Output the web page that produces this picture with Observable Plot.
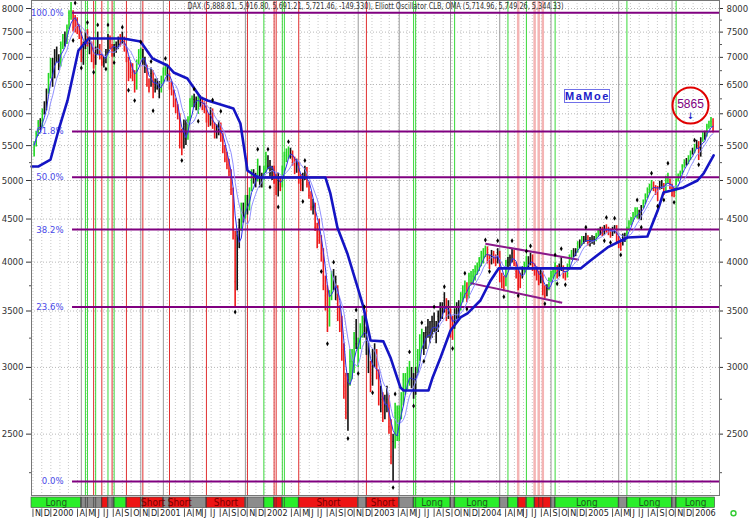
<!DOCTYPE html>
<html>
<head>
<meta charset="utf-8">
<script src="https://cdn.jsdelivr.net/npm/d3@7"></script>
<script src="https://cdn.jsdelivr.net/npm/@observablehq/plot@0.6"></script>
<style>
  body { margin: 0; background: #fff; }
  #wrap { position: relative; width: 750px; height: 518px; overflow: hidden; background: #fff; }
  #wrap svg { display: block; }
  .mamoe { position: absolute; left: 564px; top: 89px; width: 44px; height: 12px; border: 1px solid #7070e8;
    color: #2020c8; background: #fff; font: bold 11px "Liberation Sans", Arial, sans-serif; letter-spacing: 1.5px;
    line-height: 12px; text-align: center; }
</style>
</head>
<body>
<div id="wrap"></div>
<script>
// weekly DAX bars [low, high, close], first week 1999-11-05
const bars1999 = [[5330,5560,5510],[5480,5720,5690],[5640,5890,5850],[5730,5920,5780],[5760,6080,6040],[5980,6200,6100],[6050,6420,6380],[6330,6700,6660],[6600,6980,6950]];
const bars2000 = [[6450,6980,6650],[6600,7150,7100],[6900,7200,6980],[6750,7050,6850],[6820,7300,7250],[7150,7450,7380],[7200,7500,7300],[7250,7650,7600],[7550,7950,7900],[7750,8130,7950],
  [7500,7950,7600],[7480,7850,7750],[7450,7800,7600],[7350,7650,7450],[6900,7500,7050],[6850,7300,7250],[7150,7500,7420],[7200,7550,7300],[7050,7400,7250],[6900,7300,7000],
  [6780,7050,6850],[6850,7200,7150],[7050,7500,7200],[6950,7250,7000],[6830,7050,6900],[6800,7000,6920],[6880,7150,7100],[7050,7450,7380],[7150,7420,7200],[7000,7250,7100],
  [7000,7250,7180],[7080,7300,7250],[7150,7400,7300],[7200,7450,7380],[7250,7500,7350],[7100,7400,7150],[6900,7200,6950],[6550,7000,6750],[6600,6900,6800],[6550,6880,6650],
  [6350,6750,6550],[6400,6950,6900],[6850,7150,7100],[6950,7180,7050],[6850,7150,6900],[6700,7000,6800],[6450,6850,6500],[6350,6600,6450],[6450,6800,6700],[6250,6750,6500],
  [6350,6600,6450],[6400,6600,6433]];
const bars2001 = [[6250,6550,6380],[6350,6650,6550],[6500,6800,6720],[6650,6880,6800],[6550,6850,6650],[6400,6700,6480],[6300,6550,6380],[6100,6400,6200],[6000,6250,6100],[5900,6150,5980],
  [5450,6000,5550],[5350,5750,5500],[5450,5900,5830],[5500,5900,5600],[5580,5950,5900],[5880,6250,6200],[6100,6300,6250],[6100,6330,6240],[6050,6280,6150],[5990,6300,6250],
  [6100,6300,6180],[6050,6250,6150],[6000,6200,6080],[5850,6100,5930],[5780,6000,5850],[5800,6100,6050],[5750,6080,5800],[5600,5850,5680],[5600,5820,5750],[5650,5880,5800],
  [5550,5850,5650],[5380,5680,5450],[5250,5500,5300],[5150,5400,5220],[5050,5300,5120],[4800,5150,4880],[4250,4900,4400],[3540,4350,3790],[3700,4350,4300],[4150,4500,4400],
  [4350,4700,4600],[4450,4700,4580],[4500,4800,4750],[4550,4800,4650],[4600,4900,4850],[4850,5150,5100],[4950,5150,5000],[4900,5100,5000],[4980,5300,5200],[4900,5200,4950],
  [4900,5100,5050],[5000,5200,5160]];
const bars2002 = [[5100,5400,5300],[5150,5350,5200],[5050,5280,5100],[5000,5200,5150],[4950,5200,5050],[4800,5080,4900],[4780,5100,5000],[4850,5050,4950],[4900,5200,5150],[5100,5400,5350],
  [5250,5450,5350],[5300,5480,5400],[5300,5460,5397],[5200,5420,5300],[5080,5330,5150],[5100,5300,5250],[4950,5250,5000],[4850,5080,4950],[4850,5100,5050],[5000,5200,5150],
  [4900,5180,4950],[4750,4980,4800],[4600,4850,4650],[4550,4750,4650],[4350,4700,4400],[4150,4450,4380],[4200,4500,4250],[4000,4300,4100],[3700,4150,3750],[3500,3850,3650],
  [3300,3750,3500],[3350,3700,3650],[3600,3900,3850],[3700,3920,3800],[3600,3850,3700],[3400,3750,3500],[3300,3550,3400],[3050,3450,3150],[2750,3200,2850],[2600,2950,2650],
  [2520,2950,2900],[2850,3150,3050],[2900,3150,3050],[2950,3300,3250],[3150,3420,3200],[3000,3250,3200],[3150,3380,3350],[3250,3450,3350],[3250,3460,3300],[3100,3350,3150],
  [2950,3200,3000],[2800,3050,2850]];
const bars2003 = [[2850,3150,3100],[3000,3200,3050],[2900,3150,2950],[2700,2980,2750],[2650,2850,2750],[2580,2800,2650],[2600,2780,2700],[2650,2850,2750],[2500,2780,2550],[2300,2600,2350],
  [2190,2500,2450],[2400,2720,2650],[2450,2700,2500],[2450,2700,2650],[2600,2800,2750],[2700,2950,2900],[2780,2950,2850],[2820,3000,2950],[2850,3050,2950],[2830,3000,2900],
  [2750,2950,2800],[2780,3000,2980],[2950,3150,3100],[3050,3280,3250],[3150,3330,3300],[3100,3300,3150],[3150,3350,3300],[3250,3420,3350],[3200,3400,3300],[3250,3450,3400],
  [3300,3480,3350],[3200,3400,3300],[3300,3500,3450],[3400,3580,3550],[3420,3580,3500],[3480,3680,3600],[3400,3620,3450],[3420,3600,3500],[3250,3520,3300],[3230,3450,3350],
  [3330,3520,3500],[3420,3580,3500],[3430,3600,3550],[3500,3680,3650],[3580,3750,3700],[3620,3800,3750],[3580,3780,3650],[3620,3880,3850],[3750,3900,3800],[3760,3920,3850],
  [3800,3960,3900],[3860,3990,3950]];
const bars2004 = [[3900,4050,4000],[3950,4120,4050],[3980,4150,4100],[4050,4180,4150],[3980,4170,4050],[3920,4080,4000],[3970,4130,4100],[3980,4120,4050],[3950,4080,4020],[3980,4150,4100],
  [3780,4120,3800],[3720,3880,3800],[3690,3850,3750],[3740,4020,4000],[3920,4050,4000],[3950,4080,4050],[3990,4150,4100],[3950,4130,3985],[3820,4000,3900],[3700,3920,3750],
  [3720,3880,3850],[3820,3950,3920],[3880,4000,3950],[3920,4060,4000],[3940,4060,4000],[3960,4100,4050],[3900,4080,3950],[3850,3980,3900],[3800,3950,3850],[3750,3900,3800],
  [3770,3920,3900],[3650,3900,3700],[3620,3750,3650],[3640,3760,3720],[3700,3830,3800],[3780,3900,3850],[3820,3940,3900],[3870,3990,3950],[3820,3960,3850],[3840,3980,3950],
  [3900,4050,3950],[3820,3960,3850],[3800,3900,3850],[3830,3980,3950],[3930,4080,4050],[4020,4130,4100],[4050,4150,4100],[4060,4150,4120],[4100,4230,4200],[4150,4250,4200],
  [4180,4290,4250],[4200,4290,4250],[4220,4330,4256]];
const bars2005 = [[4180,4300,4220],[4170,4280,4250],[4200,4300,4230],[4190,4290,4260],[4230,4330,4300],[4280,4380,4350],[4300,4400,4360],[4290,4400,4350],[4300,4420,4400],[4330,4430,4380],
  [4300,4400,4350],[4270,4380,4330],[4290,4400,4350],[4320,4420,4400],[4220,4420,4250],[4150,4290,4200],[4120,4250,4185],[4180,4320,4300],[4220,4330,4260],[4260,4400,4380],
  [4370,4480,4450],[4420,4520,4500],[4460,4580,4550],[4520,4640,4600],[4500,4640,4530],[4490,4610,4600],[4480,4670,4650],[4630,4740,4700],[4680,4820,4800],[4760,4900,4880],
  [4820,4950,4900],[4860,5000,4950],[4850,4980,4900],[4800,4930,4850],[4720,4920,4900],[4870,4990,4950],[4880,5000,4950],[4800,4960,4850],[4850,5060,5050],[4960,5100,5000],
  [4880,5020,4900],[4780,4950,4800],[4770,4900,4850],[4850,5020,5000],[4980,5090,5050],[5020,5130,5100],[5080,5220,5200],[5170,5290,5250],[5200,5310,5250],[5220,5350,5300],
  [5280,5420,5400],[5360,5460,5408]];
const bars2006 = [[5380,5520,5500],[5450,5580,5550],[5280,5560,5350],[5330,5620,5600],[5550,5700,5650],[5580,5720,5650],[5630,5830,5800],[5750,5880,5800],[5780,5940,5870],[5691,5917,5721]];

// bar colour per week: g = green, r = red, k = black
const col1999 = "gggkgkkgg";
const col2000 = "kkkkggkggg" + "rrrrrkkrkr" + "rkkrrkkkrr" + "kkkrkrrrrr" + "rgggkkrrkr" + "kk";
const col2001 = "kgggkrrrrr" + "rrkkgggkkg" + "krrrrkrrkk" + "rrrrrrrrkk" + "gkgkggkkgk" + "kg";
const col2002 = "gkkkrrkrgg" + "ggkrrkrrkk" + "rrrkrrrrrr" + "rggkkrrrrr" + "kgggkgggkk" + "kr";
const col2003 = "kkrrkrkkrr" + "kggggggggk" + "kkgggkkkkk" + "kkkkkkrkrr" + "kkkgggrggg" + "gg";
const col2004 = "ggggrrkrrk" + "rrrgkkkrrr" + "rkggkkrrrr" + "krrkggggrk" + "krrgggkkgk" + "gkk";
const col2005 = "rkkkggkrkr" + "rrkkrrrkkg" + "gggggkkggg" + "ggrrrkkrgg" + "rrrgggggkg" + "gk";
const col2006 = "gkrkgkgggr";

// fractal markers: week number and value
const dotWeeks = [19,20,23,26,29,31,35,36,39,43,46,49,52,57,58,64,72,78,80,87,91,98,109,114,115,119,124,131,132,140,
  143,146,153,157,158,161,165,175,176,183,185,189,190,195,200,204,210,211,220,222,226,229,233,236,240,242,249,254,255,257,
  259,269,278,279,281,283,286,294,296,301,304,307,309,312,322,324];
const dotValues = [7330,8120,6800,7700,6720,7650,6780,7650,6900,7600,6400,6220,7300,6920,6050,6980,5280,6420,5880,6230,
  6040,3490,5445,5445,4910,4650,5560,4720,5280,3900,3200,4000,2470,3510,2950,3540,2800,2160,2790,3130,
  2700,3390,3050,3540,3740,3160,3880,3520,4250,3900,4240,3640,4240,3650,4120,4180,3570,4080,3770,4150,
  3760,4400,4240,4520,4220,4510,4080,4740,4400,5100,4660,4740,5240,4710,5580,5220];

// thick OMA trailing line
const trailDates = ["1999-10-27","1999-11-20","1999-12-31","2000-01-27","2000-02-27","2000-04-04","2000-05-09","2000-09-05","2000-11-02","2000-12-13",
  "2001-02-02","2001-02-23","2001-04-11","2001-05-26","2001-06-19","2001-09-15","2001-10-09","2001-11-02","2001-12-06","2002-07-26",
  "2002-08-12","2002-09-05","2002-10-09","2002-11-13","2002-12-03","2002-12-27","2003-02-09","2003-03-05","2003-04-08","2003-04-19",
  "2003-07-13","2003-07-27","2003-08-23","2003-09-26","2003-10-30","2003-11-23","2004-01-06","2004-02-10","2004-03-08","2004-12-13",
  "2005-01-16","2005-03-15","2005-05-22","2005-07-29","2005-09-02","2005-09-22","2005-11-29","2006-01-16","2006-02-06","2006-03-12"];
const trailValues = [5195,5195,5295,5732,6222,7133,7371,7371,7311,6978,
  6846,6717,6607,6273,6222,6087,5843,5139,5042,5042,
  4826,4398,4096,3733,3535,3229,3221,3083,2840,2817,
  2817,2919,3083,3319,3439,3477,3602,3805,3932,3932,
  4019,4164,4279,4291,4606,4839,4906,5000,5097,5354];

// Fibonacci retracement levels
const fibLabels = ["0.0%","23.6%","38.2%","50.0%","61.8%","100.0%"];
const fibValues = [2197,3538,4373,5043,5718,7910];
const fibStart = "2000-03-15";

// 2004 channel
const channelDates = [["2004-01-23","2004-12-07"],["2003-12-03","2004-10-11"]];
const channelValues = [[4206,4027],[3777,3580]];

// signal lines: g green, r red, k grey, p pink band
const signalDates = ["2000-04-14","2000-04-28","2000-05-05","2000-05-26","2000-06-02","2000-06-23","2000-07-14","2000-07-28","2000-08-04","2000-09-15",
  "2000-11-03","2000-11-10","2001-01-19","2001-02-09","2001-04-20","2001-06-15","2001-10-26","2001-11-02","2001-12-28","2002-02-01",
  "2002-02-08","2002-03-01","2002-03-08","2002-04-26","2002-11-15","2002-12-13","2003-04-04","2003-05-23","2003-05-30","2003-09-26",
  "2003-10-10","2004-03-12","2004-04-09","2004-05-14","2004-06-11","2004-07-09","2004-07-23","2004-08-06","2004-09-03","2004-09-17",
  "2005-04-22","2005-05-20","2005-10-21","2005-11-04"];
const signalKinds = "kggrgrgrgr" + "krkrkrkrgr" + "rggrkrkggk" + "gkgpgpppkg" + "kgkg";

// status bar: L long, S short, N neutral
const stateStarts = ["1999-10-27","2000-04-14","2000-06-23","2000-07-14","2000-08-04","2000-09-15","2000-11-03","2000-11-10","2001-01-19","2001-02-09",
  "2001-04-20","2001-06-15","2001-10-26","2001-12-28","2002-02-01","2002-03-01","2002-04-26","2002-11-15","2002-12-13","2003-04-04",
  "2003-05-23","2003-09-26","2003-10-10","2004-03-12","2004-04-09","2004-05-14","2004-06-11","2004-07-09","2004-09-03","2004-09-17",
  "2005-04-22","2005-05-20","2005-10-21","2005-11-04"];
const stateKinds = "LNSNLSNSNS" + "NSNLSLSNSN" + "LNLNLSLSNL" + "NLNL";
const stateEnd = "2006-03-17";

const yTicks = [2500,3000,3500,4000,4500,5000,5500,6000,6500,7000,7500,8000];
const yMinor = [2250,2750,3250,3750,4250,4750,5250,5750,6250,6750,7250,7750];
const monthLetters = ["J","F","M","A","M","J","J","A","S","O","N","D"];

const header = "DAX (5,888.81, 5,916.80, 5,691.21, 5,721.46, -149.330), Elliott Oscillator CLB, OMA (5,714.96, 5,749.26, 5,344.33)";
const target = {date: "2005-12-23", value: 6138, label: "5865"};

// ---------- build tables ----------
const day = 864e5;
const firstWeek = Date.UTC(1999, 10, 5);
const barYears = [bars1999, bars2000, bars2001, bars2002, bars2003, bars2004, bars2005, bars2006];
const colYears = [col1999, col2000, col2001, col2002, col2003, col2004, col2005, col2006];
const bars = [];
barYears.forEach((year, k) => year.forEach((b, j) => {
  bars.push({date: new Date(firstWeek + bars.length * 7 * day), lo: b[0], hi: b[1], close: b[2], col: colYears[k][j]});
}));
const barColor = {g: "#22d822", r: "#ee1a1a", k: "#111111"};

const dots = dotWeeks.map((w, i) => ({date: bars[w].date, value: dotValues[i]}));
const trail = trailDates.map((d, i) => ({date: new Date(d), value: trailValues[i]}));
const fib = fibValues.map((v, i) => ({value: v, label: fibLabels[i], x1: new Date(fibStart), x2: new Date("2006-04-01")}));
const channels = channelDates.map((d, i) => ({x1: new Date(d[0]), x2: new Date(d[1]), y1: channelValues[i][0], y2: channelValues[i][1]}));
const signals = signalDates.map((d, i) => ({date: new Date(d), kind: signalKinds[i]}));
const signalColor = {g: "#3ad83a", r: "#e03030", k: "#9a9a9a", p: "#f4b4b4"};
const states = stateStarts.map((s, i) => ({x1: new Date(s), x2: new Date(stateStarts[i + 1] || stateEnd), kind: stateKinds[i]}));
const stateColor = {L: "#2aee2a", S: "#ee1414", N: "#8c8c8c"};

const xDomain = [new Date("1999-10-27"), new Date("2006-04-01")];
const months = d3.utcMonth.range(xDomain[0], xDomain[1]);
const monthTicks = d3.utcMonth.range(new Date("1999-11-01"), new Date("2006-01-02"))
  .filter(d => d.getUTCMonth() !== 1 && d.getUTCMonth() !== 2)
  .map(d => ({date: d, label: d.getUTCMonth() === 0 ? String(d.getUTCFullYear()) : monthLetters[d.getUTCMonth()]}));

const font = '"Liberation Sans Narrow", "DejaVu Sans Condensed", "Liberation Sans", sans-serif';

const main = Plot.plot({
  width: 750,
  height: 495,
  marginLeft: 31,
  marginRight: 31,
  marginTop: 0,
  marginBottom: 0,
  x: {type: "utc", domain: xDomain, axis: null},
  y: {type: "log", domain: [2114, 8177], axis: null},
  style: {fontFamily: font, fontSize: 9, background: "#fff", overflow: "visible"},
  marks: [
    Plot.ruleY(yTicks, {stroke: "#b8b8b8", strokeDasharray: "1,2"}),
    Plot.ruleX(months, {stroke: "#c8c8c8", strokeDasharray: "1,2"}),
    Plot.ruleX(signals.filter(d => d.kind === "p"), {x: "date", stroke: signalColor.p, strokeWidth: 2.5}),
    Plot.ruleX(signals.filter(d => d.kind !== "p"), {x: "date", stroke: d => signalColor[d.kind], strokeWidth: 1}),
    Plot.ruleX(bars, {x: "date", y1: "lo", y2: "hi", stroke: d => barColor[d.col], strokeWidth: 1.6}),
    Plot.ruleY(bars, {y: "close", x1: "date", x2: d => new Date(+d.date + 3 * day), stroke: d => barColor[d.col], strokeWidth: 1}),
    Plot.ruleY(fib, {y: "value", x1: "x1", x2: "x2", stroke: "#800080", strokeWidth: 2}),
    Plot.text(fib, {x: "x1", y: "value", text: "label", textAnchor: "end", dx: -9, fill: "#4848e8", fontSize: 9.5}),
    Plot.link(channels, {x1: "x1", x2: "x2", y1: "y1", y2: "y2", stroke: "#8a1a8a", strokeWidth: 2}),
    Plot.lineY(bars, Plot.windowY({k: 8, anchor: "end"}, {x: "date", y: "close", stroke: "#9090ff", strokeWidth: 1})),
    Plot.lineY(bars, Plot.windowY({k: 4, anchor: "end"}, {x: "date", y: "close", stroke: "#3030e8", strokeWidth: 1})),
    Plot.line(trail, {x: "date", y: "value", stroke: "#1414c4", strokeWidth: 2.6}),
    Plot.dot(dots, {x: "date", y: "value", symbol: "diamond", r: 1.5, fill: "#000"}),
    Plot.dot([target], {x: d => new Date(d.date), y: "value", r: 18, stroke: "#e00000", strokeWidth: 2, fill: "none"}),
    Plot.text([target], {x: d => new Date(d.date), y: "value", text: "label", fill: "#800080", fontSize: 12, dy: -1, fontFamily: "Liberation Sans"}),
    Plot.text([target], {x: d => new Date(d.date), y: "value", text: () => "↓", fill: "#2020c8", fontSize: 9, fontWeight: "bold", dy: 11}),
    Plot.text([header], {frameAnchor: "top-left", dx: 156, dy: 3, lineAnchor: "top", textAnchor: "start", fontSize: 8, fill: "#333"}),
    Plot.axisY({anchor: "left", ticks: yTicks, tickFormat: d => String(d), tickSize: 5, tickPadding: 3, fontSize: 9.5, color: "#333"}),
    Plot.axisY({anchor: "left", ticks: yMinor, tickFormat: () => "", tickSize: 2, color: "#555"}),
    Plot.axisY({anchor: "right", ticks: yTicks, tickFormat: d => String(d), tickSize: 3, tickPadding: 4, fontSize: 9.5, color: "#333"}),
    Plot.axisY({anchor: "right", ticks: yMinor, tickFormat: () => "", tickSize: 2, color: "#555"}),
    Plot.frame({stroke: "#777"})
  ]
});

const strip = Plot.plot({
  width: 750,
  height: 23,
  marginLeft: 31,
  marginRight: 31,
  marginTop: 2,
  marginBottom: 0,
  x: {type: "utc", domain: xDomain, axis: null},
  y: {domain: [0, 2], axis: null},
  style: {fontFamily: font, fontSize: 8, background: "#fff", overflow: "visible"},
  marks: [
    Plot.rect(states, {x1: "x1", x2: "x2", y1: 1, y2: 2, fill: d => stateColor[d.kind], stroke: "#444", strokeWidth: 0.6}),
    Plot.ruleX(signals, {x: "date", y1: 1, y2: 2, stroke: "#333", strokeOpacity: 0.6}),
    Plot.text(states.filter(d => d.kind !== "N" && d.x2 - d.x1 > 60 * day), {
      x: d => new Date((+d.x1 + +d.x2) / 2), y: 1.5, text: d => d.kind === "L" ? "Long" : "Short",
      fill: d => d.kind === "L" ? "#1d5a1d" : "#7a0000", fontSize: 10
    }),
    Plot.ruleX(monthTicks, {x: "date", y1: 0.1, y2: 0.9, stroke: "#555"}),
    Plot.text(monthTicks, {x: "date", y: 0.5, text: "label", textAnchor: "start", dx: 2, fontSize: 9, fill: "#222"}),
    Plot.dot([0.5], {y: d => d, frameAnchor: "right", dx: 14, r: 2.5, stroke: "#33cc33", strokeWidth: 1.4, fill: "none"})
  ]
});

const wrap = d3.select("#wrap");
wrap.append(() => main);
wrap.append(() => strip);
d3.select(main).selectAll("text")
  .filter(function() { return this.textContent.startsWith("DAX"); })
  .attr("textLength", 376)
  .attr("lengthAdjust", "spacingAndGlyphs");
wrap.append("div").attr("class", "mamoe").text("MaMoe");
</script>
</body>
</html>
